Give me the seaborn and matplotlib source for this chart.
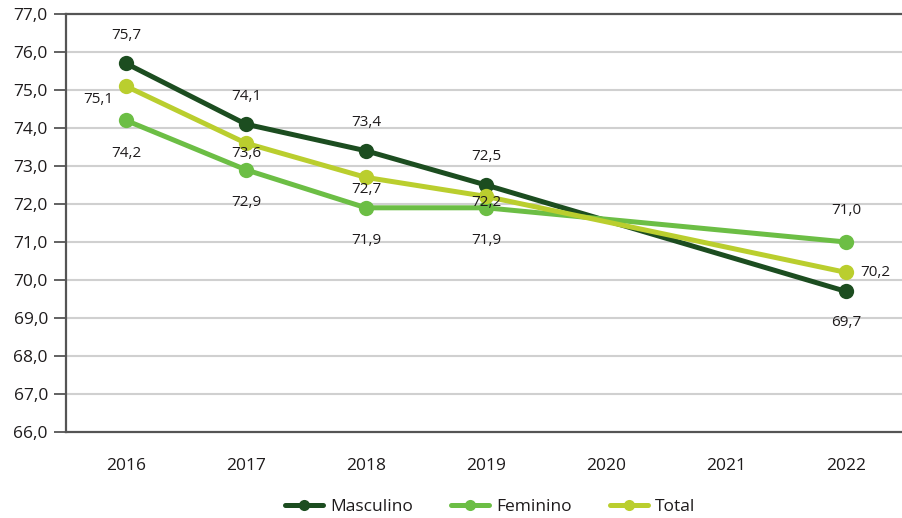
import matplotlib
matplotlib.use("Agg")
import matplotlib.pyplot as plt
import seaborn as sns
import pandas as pd
import numpy as np
from matplotlib.lines import Line2D

categories = ["2016", "2017", "2018", "2019", "2020", "2021", "2022"]
data_years = ["2016", "2017", "2018", "2019", "2022"]
masculino = [75.7, 74.1, 73.4, 72.5, 69.7]
feminino = [74.2, 72.9, 71.9, 71.9, 71.0]
total = [75.1, 73.6, 72.7, 72.2, 70.2]
series_names = ["Masculino", "Feminino", "Total"]
colors = ["#1c4d20", "#6cbe45", "#bace2e"]
y_ticks = [66, 67, 68, 69, 70, 71, 72, 73, 74, 75, 76, 77]

sns.set_theme(style="white")
plt.rcParams["font.family"] = ["Open Sans", "DejaVu Sans"]
text_color = "#1e1b1c"

rows = []
for name, vals in zip(series_names, [masculino, feminino, total]):
    for yr, v in zip(data_years, vals):
        rows.append({"pos": categories.index(yr), "value": v, "serie": name, "year": yr})
df = pd.DataFrame(rows)

fig = plt.figure(figsize=(9.03, 5.18), dpi=100)
ax = fig.add_axes([66 / 903, 1 - 432 / 518, (906 - 66) / 903, (432 - 14) / 518])

for y in y_ticks[1:-1]:
    ax.axhline(y, color="#d0d0d0", lw=1.5, zorder=0)

sns.lineplot(data=df, x="pos", y="value", hue="serie", hue_order=series_names,
             palette=colors, marker="o", markersize=11, markeredgewidth=0,
             linewidth=3.6, sort=False, legend=False, ax=ax, zorder=3)

ax.set_xlim(-0.5, 6.5)
ax.set_ylim(66, 77)
ax.set_yticks(y_ticks)
ax.set_yticklabels([f"{v:.1f}".replace(".", ",") for v in y_ticks], fontsize=12.5, color=text_color)
ax.set_xticks(range(len(categories)))
ax.set_xticklabels(categories, fontsize=12.5, color=text_color)
ax.set_xticks(np.arange(-0.5, 7, 1), minor=True)
ax.tick_params(axis="x", which="major", length=0, pad=19)
ax.tick_params(axis="x", which="minor", length=9, width=1.3, color="#555555", direction="out")
ax.tick_params(axis="y", which="major", length=9, width=1.3, color="#555555", direction="out", pad=4, left=True)
ax.set_xlabel("")
ax.set_ylabel("")

for side in ["left", "bottom", "top"]:
    ax.spines[side].set_visible(True)
    ax.spines[side].set_color("#555555")
    ax.spines[side].set_linewidth(1.6)
ax.spines["right"].set_visible(False)

def fmt(v):
    return f"{v:.1f}".replace(".", ",")

offsets = {
    "Masculino": [(0, 28), (0, 28), (0, 28), (0, 28), (0, -31)],
    "Feminino": [(0, -33), (0, -33), (0, -33), (0, -33), (0, 32)],
    "Total": [(-28, -13), (0, -10), (0, -12), (0, -6), (29, 0)],
}
for name, vals in zip(series_names, [masculino, feminino, total]):
    for yr, v, off in zip(data_years, vals, offsets[name]):
        ax.annotate(fmt(v), (categories.index(yr), v), xytext=off, textcoords="offset pixels",
                    ha="center", va="center", fontsize=11, color=text_color, zorder=5)

handles = [Line2D([0], [0], color=c, lw=3.6, marker="o", markersize=8, markeredgewidth=0)
           for c in colors]
fig.legend(handles, series_names, loc="center", bbox_to_anchor=(490 / 903, 1 - 507 / 518),
           ncol=3, frameon=False, fontsize=12.5, handlelength=2.2, handletextpad=0.4,
           columnspacing=2.2, labelcolor=text_color)

fig.savefig("out.png", dpi=100)
